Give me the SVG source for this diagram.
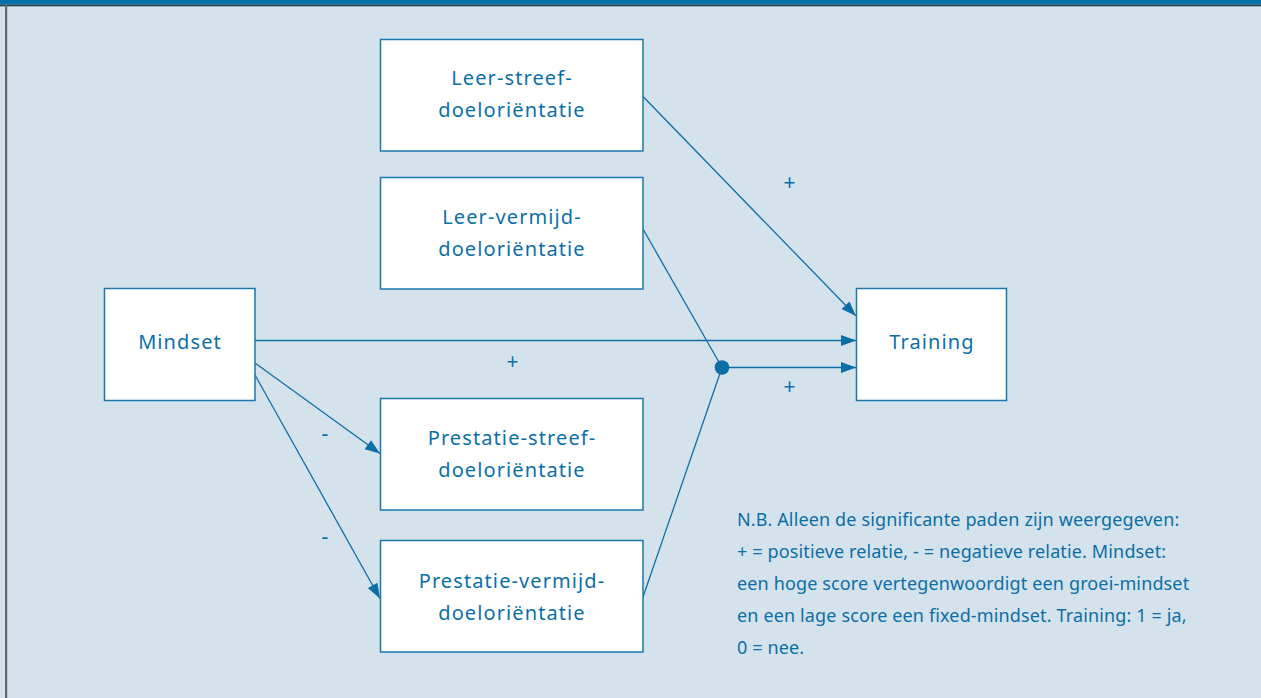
<svg xmlns="http://www.w3.org/2000/svg" width="1261" height="698" viewBox="0 0 1261 698">
<defs>
<style>
.node rect{fill:#ffffff;stroke:#1a78ad;stroke-width:1.5}
.node text{font-family:"Noto Sans","Open Sans","DejaVu Sans",sans-serif;font-size:20px;letter-spacing:1.1px;fill:#0b6fa6;text-anchor:middle}
.conn line{stroke:#106fa6;stroke-width:1.3;fill:none}
.lbl{font-family:"Noto Sans","Open Sans","DejaVu Sans",sans-serif;font-size:21px;fill:#0b6fa6;text-anchor:middle}
.note{font-family:"Noto Sans","Open Sans","DejaVu Sans",sans-serif;font-size:18px;letter-spacing:0.14px;fill:#0b6fa6}
</style>
<marker id="arr" markerUnits="userSpaceOnUse" markerWidth="16" markerHeight="12" viewBox="0 0 15 12" refX="15" refY="6" orient="auto">
<path d="M0,0.5 L15,6 L0,11.5 Z" fill="#0b6fa6"/>
</marker>
</defs>
<rect x="0" y="0" width="1261" height="698" fill="#d4e2eb"/>
<rect x="0" y="0" width="1261" height="4.5" fill="#0070a8"/>
<rect x="0" y="4.5" width="1261" height="1.8" fill="#1d3e52"/>
<rect x="5" y="5" width="2.2" height="693" fill="#666666"/>

<g id="connectors" class="conn">
<line x1="643" y1="96.5" x2="856" y2="316" marker-end="url(#arr)"/>
<line x1="255" y1="340.5" x2="856" y2="340.5" marker-end="url(#arr)"/>
<line x1="722" y1="367.5" x2="856" y2="367.5" marker-end="url(#arr)"/>
<line x1="643" y1="229" x2="722" y2="367.5"/>
<line x1="643" y1="597" x2="722" y2="367.5"/>
<line x1="255" y1="363" x2="380" y2="453.5" marker-end="url(#arr)"/>
<line x1="255" y1="375" x2="380" y2="598.5" marker-end="url(#arr)"/>
<circle cx="722" cy="367.5" r="7.3" fill="#0b6fa6"/>
<text class="lbl" x="789.5" y="190">+</text>
<text class="lbl" x="512.5" y="368.5">+</text>
<text class="lbl" x="789.5" y="394">+</text>
<text class="lbl" x="325" y="441">-</text>
<text class="lbl" x="325" y="543.5">-</text>
</g>

<g id="node-mindset" class="node">
<rect x="104.5" y="288.5" width="150.5" height="112"/>
<text x="180" y="349">Mindset</text>
</g>
<g id="node-training" class="node">
<rect x="856.5" y="288.5" width="150" height="112"/>
<text x="932" y="348.5">Training</text>
</g>
<g id="node-leer-streef" class="node">
<rect x="380.5" y="39.5" width="262.5" height="111.5"/>
<text x="512" y="85">Leer-streef-</text>
<text x="512" y="117">doeloriëntatie</text>
</g>
<g id="node-leer-vermijd" class="node">
<rect x="380.5" y="177.5" width="262.5" height="111.5"/>
<text x="512" y="224">Leer-vermijd-</text>
<text x="512" y="256">doeloriëntatie</text>
</g>
<g id="node-prestatie-streef" class="node">
<rect x="380.5" y="398.5" width="262.5" height="111.5"/>
<text x="512" y="445">Prestatie-streef-</text>
<text x="512" y="476.5">doeloriëntatie</text>
</g>
<g id="node-prestatie-vermijd" class="node">
<rect x="380.5" y="540.5" width="262.5" height="111.5"/>
<text x="512" y="587.5">Prestatie-vermijd-</text>
<text x="512" y="619.5">doeloriëntatie</text>
</g>

<g id="note">
<text class="note" x="737" y="526">N.B. Alleen de significante paden zijn weergegeven:</text>
<text class="note" x="737" y="558">+ = positieve relatie, - = negatieve relatie. Mindset:</text>
<text class="note" x="737" y="590">een hoge score vertegenwoordigt een groei-mindset</text>
<text class="note" x="737" y="621.5">en een lage score een fixed-mindset. Training: 1 = ja,</text>
<text class="note" x="737" y="653.5">0 = nee.</text>
</g>
</svg>
